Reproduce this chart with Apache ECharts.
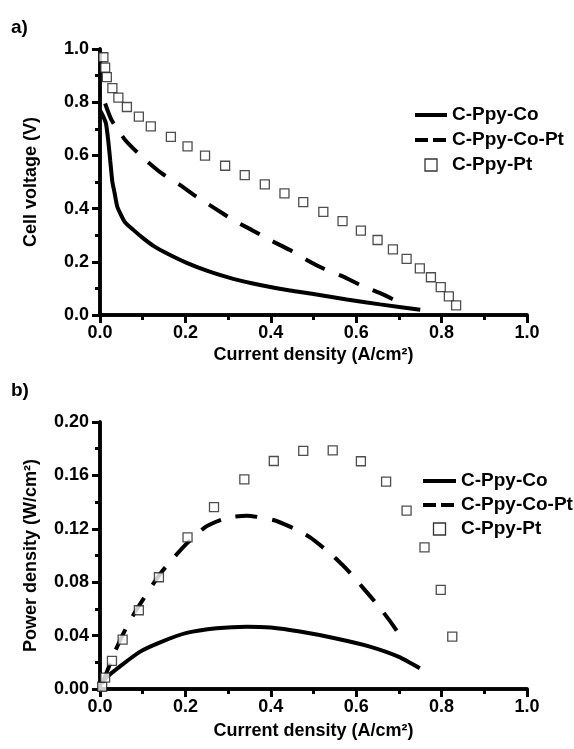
<!DOCTYPE html>
<html>
<head>
<meta charset="utf-8">
<script src="https://cdn.jsdelivr.net/npm/echarts@6/dist/echarts.min.js"></script>
<style>
html,body{margin:0;padding:0;background:#fff;}
#chart{width:574px;height:749px;}
</style>
</head>
<body>
<div id="chart"></div>
<script>
// ---- Panel a) : cell voltage ----
const coX_a   = [0.0, 0.008, 0.014, 0.019, 0.024, 0.029, 0.034, 0.040, 0.048, 0.058, 0.078, 0.100, 0.125, 0.156, 0.203, 0.250, 0.312, 0.375, 0.445, 0.500, 0.578, 0.656, 0.750];
const coY_a   = [0.770, 0.745, 0.720, 0.660, 0.580, 0.500, 0.460, 0.410, 0.380, 0.350, 0.320, 0.290, 0.260, 0.232, 0.196, 0.167, 0.136, 0.113, 0.092, 0.079, 0.058, 0.040, 0.020];
const coptX_a = [0.012, 0.027, 0.059, 0.098, 0.144, 0.187, 0.226, 0.269, 0.312, 0.355, 0.398, 0.445, 0.484, 0.523, 0.570, 0.609, 0.656, 0.700];
const coptY_a = [0.795, 0.733, 0.658, 0.595, 0.533, 0.489, 0.445, 0.401, 0.357, 0.320, 0.282, 0.244, 0.207, 0.175, 0.144, 0.113, 0.082, 0.048];
const ptX_a   = [0.008, 0.012, 0.016, 0.029, 0.043, 0.063, 0.091, 0.119, 0.166, 0.205, 0.246, 0.293, 0.339, 0.386, 0.432, 0.476, 0.523, 0.568, 0.611, 0.650, 0.686, 0.718, 0.749, 0.775, 0.798, 0.817, 0.834];
const ptY_a   = [0.969, 0.930, 0.894, 0.853, 0.817, 0.782, 0.746, 0.709, 0.670, 0.634, 0.599, 0.561, 0.526, 0.491, 0.457, 0.424, 0.388, 0.353, 0.317, 0.282, 0.247, 0.211, 0.175, 0.142, 0.105, 0.070, 0.036];

// ---- Panel b) : power density ----
const coX_b   = [0.002, 0.016, 0.047, 0.094, 0.141, 0.203, 0.273, 0.344, 0.400, 0.468, 0.550, 0.632, 0.700, 0.749];
const coY_b   = [0.004, 0.009, 0.017, 0.028, 0.035, 0.042, 0.0455, 0.0467, 0.0460, 0.0430, 0.0380, 0.0317, 0.0240, 0.0155];
const coptX_b = [0.005, 0.012, 0.035, 0.060, 0.086, 0.142, 0.200, 0.250, 0.300, 0.344, 0.406, 0.453, 0.492, 0.539, 0.578, 0.617, 0.652, 0.683, 0.712];
const coptY_b = [0.004, 0.0095, 0.028, 0.045, 0.0597, 0.0867, 0.108, 0.122, 0.1285, 0.1298, 0.1266, 0.1204, 0.1136, 0.1016, 0.0896, 0.0754, 0.0622, 0.0492, 0.0354];
const ptX_b   = [0.005, 0.012, 0.028, 0.053, 0.091, 0.138, 0.205, 0.267, 0.338, 0.407, 0.476, 0.545, 0.611, 0.670, 0.718, 0.760, 0.798, 0.825];
const ptY_b   = [0.0017, 0.0085, 0.021, 0.037, 0.059, 0.0837, 0.1136, 0.1363, 0.157, 0.1708, 0.1783, 0.1788, 0.1706, 0.1553, 0.1336, 0.1061, 0.0742, 0.0392];

const seriesNames = ['C-Ppy-Co', 'C-Ppy-Co-Pt', 'C-Ppy-Pt'];
const xTitle = 'Current density (A/cm²)';
const yTitleA = 'Cell voltage (V)';
const yTitleB = 'Power density (W/cm²)';

const zip = (xs, ys) => xs.map((x, i) => [x, ys[i]]);
const FONT = 'Liberation Sans, Arial, sans-serif';
const txt = {color: '#000', fontWeight: 'bold', fontSize: 18, fontFamily: FONT};
const AXLINE = {show: true, lineStyle: {color: '#000', width: 3.5}};

function xAxisOpt(gi, gap) {
  return {
    type: 'value', gridIndex: gi, min: 0, max: 1.0, interval: 0.2, position: 'bottom',
    name: xTitle, nameLocation: 'middle', nameGap: gap,
    nameTextStyle: Object.assign({}, txt),
    axisLine: AXLINE,
    axisTick: {show: true, length: 8, lineStyle: {color: '#000', width: 3}},
    axisLabel: Object.assign({}, txt, {margin: 9, formatter: v => v.toFixed(1)}),
    splitLine: {show: false}
  };
}
function xMinorOpt(gi) {
  return {
    type: 'value', gridIndex: gi, min: 0, max: 1.0, interval: 0.1, position: 'bottom',
    axisLine: AXLINE, axisLabel: {show: false}, splitLine: {show: false},
    axisTick: {show: true, length: 5, lineStyle: {color: '#000', width: 3}}
  };
}
function yAxisOpt(gi, max, interval, digits, title) {
  return {
    type: 'value', gridIndex: gi, min: 0, max: max, interval: interval, position: 'left',
    name: title, nameLocation: 'middle', nameGap: 60,
    nameTextStyle: Object.assign({}, txt),
    axisLine: AXLINE,
    axisTick: {show: true, length: 8, lineStyle: {color: '#000', width: 3}},
    axisLabel: Object.assign({}, txt, {margin: 11, formatter: v => v.toFixed(digits)}),
    splitLine: {show: false}
  };
}
function yMinorOpt(gi, max, interval) {
  return {
    type: 'value', gridIndex: gi, min: 0, max: max, interval: interval, position: 'left',
    axisLine: AXLINE, axisLabel: {show: false}, splitLine: {show: false},
    axisTick: {show: true, length: 5, lineStyle: {color: '#000', width: 3}}
  };
}
function lineSeries(name, gi, data, dashed) {
  return {
    name: name, type: 'line', xAxisIndex: gi, yAxisIndex: gi, data: data,
    showSymbol: false, symbol: 'none', smooth: 0.2, z: 2,
    itemStyle: {color: '#000'},
    lineStyle: {color: '#000', width: 4, type: dashed ? [22, 15] : 'solid'}
  };
}
function scatterSeries(name, gi, data) {
  return {
    name: name, type: 'scatter', xAxisIndex: gi, yAxisIndex: gi, data: data,
    symbol: 'rect', symbolSize: 9, z: 5,
    itemStyle: {color: '#fff', borderColor: '#222', borderWidth: 1.3}
  };
}
function legendOpt(left, top, w, gap) {
  return {
    orient: 'vertical', left: left, top: top, itemWidth: w, itemHeight: 12, itemGap: gap,
    selectedMode: false,
    textStyle: Object.assign({}, txt, {fontSize: 19, lineHeight: 20}),
    data: [
      {name: seriesNames[0], itemStyle: {opacity: 0}, lineStyle: {color: '#000', width: 4, type: 'solid'}},
      {name: seriesNames[1], itemStyle: {opacity: 0}, lineStyle: {color: '#000', width: 4, type: [13, 5]}},
      {name: seriesNames[2], icon: 'path://M0,0H10V10H0Z',
       itemStyle: {color: '#fff', borderColor: '#000', borderWidth: 1.3}}
    ]
  };
}

const option = {
  backgroundColor: '#fff',
  animation: false,
  title: [
    {text: 'a)', left: 6, top: 13, textStyle: Object.assign({}, txt, {fontSize: 19})},
    {text: 'b)', left: 6, top: 376, textStyle: Object.assign({}, txt, {fontSize: 19})}
  ],
  legend: [legendOpt(408, 100, 32, 5), legendOpt(416, 466, 33, 4)],
  grid: [
    {left: 100, top: 49, width: 427, height: 266},
    {left: 100, top: 422, width: 427, height: 267}
  ],
  xAxis: [xAxisOpt(0, 31), xAxisOpt(1, 33), xMinorOpt(0), xMinorOpt(1)],
  yAxis: [yAxisOpt(0, 1.0, 0.2, 1, yTitleA), yAxisOpt(1, 0.20, 0.04, 2, yTitleB),
          yMinorOpt(0, 1.0, 0.1), yMinorOpt(1, 0.20, 0.02)],
  series: [
    lineSeries(seriesNames[0], 0, zip(coX_a, coY_a), false),
    lineSeries(seriesNames[1], 0, zip(coptX_a, coptY_a), true),
    scatterSeries(seriesNames[2], 0, zip(ptX_a, ptY_a)),
    lineSeries(seriesNames[0], 1, zip(coX_b, coY_b), false),
    lineSeries(seriesNames[1], 1, zip(coptX_b, coptY_b), true),
    scatterSeries(seriesNames[2], 1, zip(ptX_b, ptY_b))
  ]
};
echarts.init(document.getElementById('chart'), null, {renderer: 'canvas'}).setOption(option);
</script>
</body>
</html>
